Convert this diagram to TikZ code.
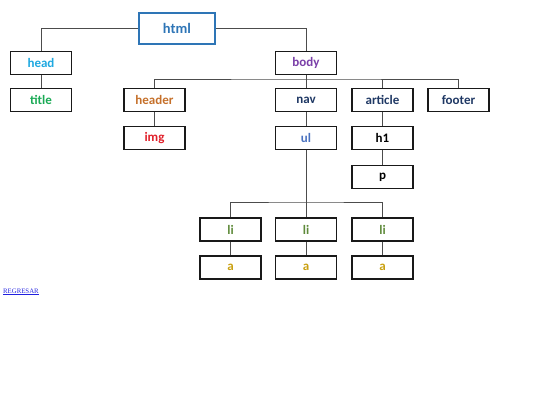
\documentclass[tikz,border=0pt]{standalone}
\usepackage{fontspec}
\setmainfont{Carlito}
\newfontfamily\linkfont{Liberation Serif}
\usetikzlibrary{positioning}
\definecolor{htmlblue}{HTML}{2E75B6}
\definecolor{headblue}{HTML}{1FA8E0}
\definecolor{titlegreen}{HTML}{1AAA55}
\definecolor{headerbrown}{HTML}{C5702A}
\definecolor{imgred}{HTML}{E0202A}
\definecolor{bodypurple}{HTML}{7A3FA8}
\definecolor{navy}{HTML}{1F3864}
\definecolor{ulblue}{HTML}{4A72C0}
\definecolor{ligreen}{HTML}{5E8A3A}
\definecolor{agold}{HTML}{C9A010}
\definecolor{linkblue}{HTML}{2020E0}
\tikzset{
  tag/.style={draw=black!90, line width=1.3pt, minimum width=61pt, minimum height=23pt,
    inner sep=0pt, font=\fontsize{13}{13}\selectfont\bfseries},
  link/.style={draw=black!70, line width=1pt}
}

\begin{document}
\begin{tikzpicture}[x=1pt,y=-1pt]
\useasboundingbox (0,0) rectangle (540,405);
\node[tag, draw=htmlblue, minimum width=76pt, minimum height=31pt, text=htmlblue,
  font=\fontsize{14.5}{14.5}\selectfont\bfseries] (html) at (177,28.5) {html};
\node[tag, text=headblue] (head) at (41,63) {head};
\node[tag, text=titlegreen] (title) at (41,100) {title};
\node[tag, text=bodypurple] (body) at (306,63) {body};
\node[tag, text=headerbrown] (header) at (154.5,100) {header};
\node[tag, text=imgred] (img) at (154.5,138) {img};
\node[tag, text=navy] (nav) at (306,100) {nav};
\node[tag, text=navy] (article) at (382.5,100) {article};
\node[tag, text=navy] (footer) at (458.5,100) {footer};
\node[tag, text=ulblue] (ul) at (306,138) {ul};
\node[tag] (h1) at (382.5,138) {h1};
\node[tag] (p) at (382.5,177) {p};
\foreach \i/\x in {1/230.5,2/306,3/382.5}{
  \node[tag, text=ligreen] (li\i) at (\x,229.5) {li};
  \node[tag, text=agold] (a\i) at (\x,267.5) {a};
  \draw[link] (li\i) -- (a\i);
}
\coordinate (bus) at (306,79);
\coordinate (ulbus) at (306,202);
% tree edges
\draw[link] (html.west) -| (head.north);
\draw[link] (html.east) -| (body.north);
\draw[link] (head) -- (title);
\draw[link] (header.north) |- (bus) -| (footer.north);
\draw[link] (body) -- (nav);
\draw[link] (article.north) -- (article.north |- bus);
\draw[link] (header) -- (img);
\draw[link] (nav) -- (ul);
\draw[link] (article) -- (h1);
\draw[link] (h1) -- (p);
\draw[link] (li1.north) |- (ulbus) -| (li3.north);
\draw[link] (ul) -- (li2);
\node[anchor=west, inner sep=0pt, text=linkblue, font=\linkfont\fontsize{6.8}{6.8}\selectfont]
  (back) at (3,292) {\underline{REGRESAR}};
\end{tikzpicture}
\end{document}
